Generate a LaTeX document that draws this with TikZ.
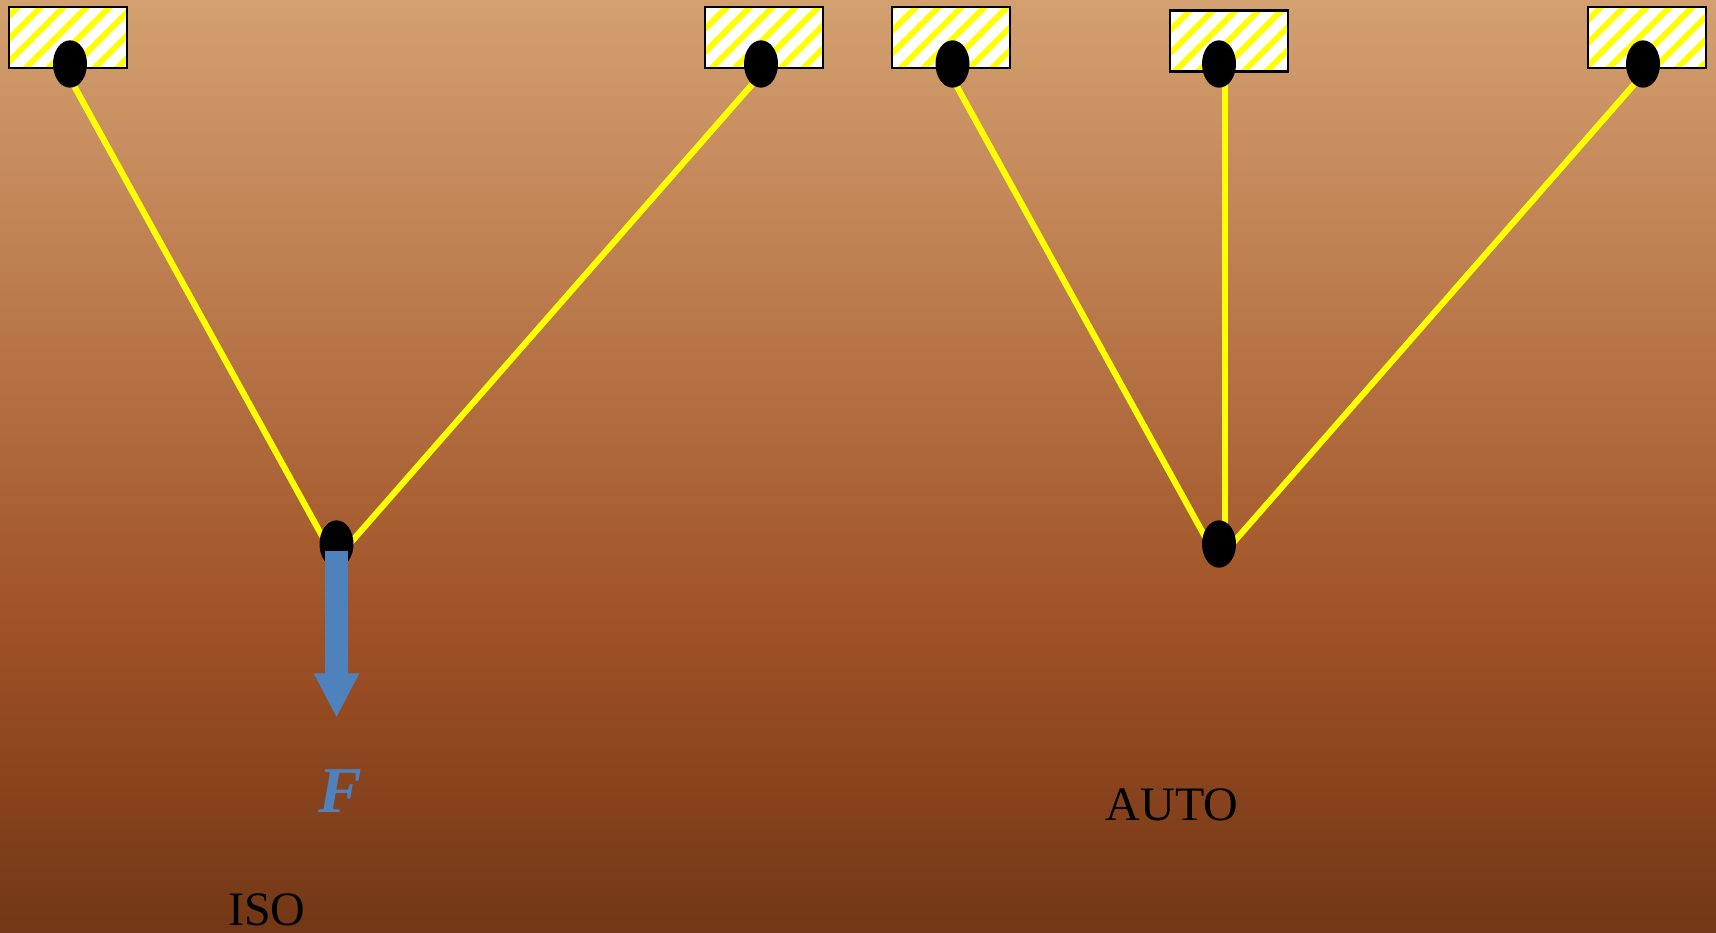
\documentclass[tikz,border=0pt]{standalone}
\usepackage{fontspec}
\setmainfont{Liberation Serif}
\usetikzlibrary{arrows.meta,calc,shapes.geometric,backgrounds}
\definecolor{bgtop}{RGB}{212,160,112}
\definecolor{bgmid}{RGB}{158,80,36}
\definecolor{bgbot}{RGB}{114,55,22}
\definecolor{forceblue}{RGB}{79,129,189}
\definecolor{pureyellow}{RGB}{255,255,0}
\pgfdeclareverticalshading{bgshade}{100bp}{
  color(0bp)=(bgbot); color(25bp)=(bgbot); color(40.7bp)=(bgmid); color(75bp)=(bgtop); color(100bp)=(bgtop)}
\tikzset{
  pin/.style={ellipse,fill=black,minimum width=25.5pt,minimum height=35.5pt,inner sep=0pt,outer sep=0pt},
  wire/.style={draw=pureyellow,line width=4.6pt},
  caption/.style={anchor=base west,inner sep=0pt,font=\fontsize{36pt}{36pt}\selectfont},
  boxframe/.style={draw=black,line width=1.6pt}
}
\newcommand{\hatchbox}[6]{% name, x1, y1, x2, y2, stripe phase
  \begin{scope}
    \clip (#2,#3) rectangle (#4,#5);
    \fill[white] (#2,#3) rectangle (#4,#5);
    \foreach \k in {-1,...,9}
      \draw[pureyellow,line width=4.4pt] ({#2+#6+\k*22.9+10},{#3-10}) -- ({#2+#6+\k*22.9-80},{#3+80});
  \end{scope}
  \node[boxframe,inner sep=0pt,minimum width=88.5pt,minimum height=45.75pt] (#1) at ({(#2+#4)/2},{(#3+#5)/2}) {};
}
\begin{document}
\begin{tikzpicture}[x=0.75pt,y=-0.75pt]
\useasboundingbox (0,0) rectangle (1716,932);
\node[pin] (p1) at (70,64) {};
\node[pin] (p2) at (761,64) {};
\node[pin] (p3) at (952.5,64) {};
\node[pin] (p4) at (1219,64) {};
\node[pin] (p5) at (1643,64) {};
\node[pin] (q1) at (336.5,544) {};
\node[pin] (q2) at (1219,544) {};
\begin{scope}[on background layer]
\shade[shading=bgshade] (0,0) rectangle (1716,932);
\hatchbox{b1}{9}{7}{127}{68}{9}
\hatchbox{b2}{705}{7}{823}{68}{22}
\hatchbox{b3}{892}{7}{1010}{68}{1}
\hatchbox{b4}{1170}{10.5}{1288}{71.5}{20}
\hatchbox{b5}{1588}{7}{1706}{68}{13}
\draw[wire] ($(p1.center)+(-8,0)$) -- ($(q1.center)+(-10,0)$);
\draw[wire] ($(p2.center)+(9,0)$) -- ($(q1.center)+(13,0)$);
\draw[wire] ($(p3.center)+(-8,0)$) -- ($(q2.center)+(-10,0)$);
\draw[wire] ($(p4.center)+(5.7,0)$) -- ($(q2.center)+(5.7,0)$);
\draw[wire] ($(p5.center)+(9,0)$) -- ($(q2.center)+(13,0)$);
\end{scope}
\coordinate (fstart) at (336.5,551);
\coordinate (ftip) at (336.5,718);
\draw[forceblue,line width=17pt,-{Triangle[length=33.5pt,width=31.5pt]}] (fstart) -- (ftip);
\node[caption,text=forceblue,font=\fontsize{49pt}{49pt}\selectfont\bfseries\itshape] (fl) at (318,812) {F};
\node[caption] (auto) at (1105.5,820) {AUTO};
\node[caption] (iso) at (228,925) {ISO};
\end{tikzpicture}
\end{document}
